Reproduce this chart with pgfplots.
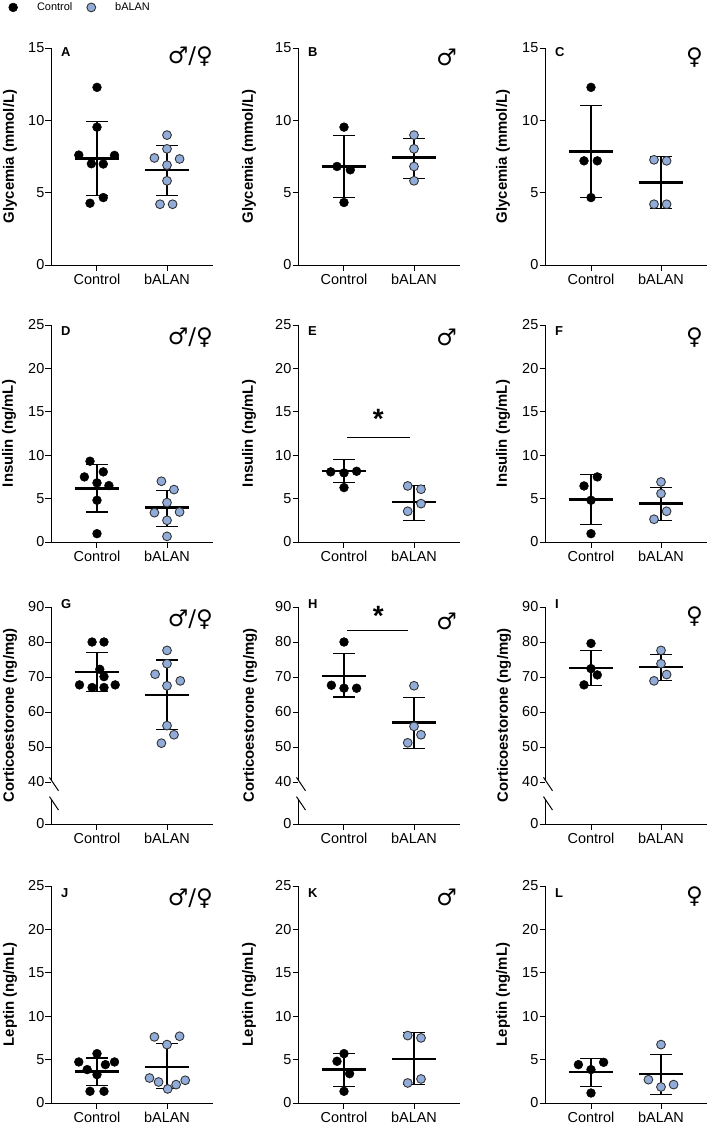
\documentclass[border=0pt]{standalone}
\usepackage{fontspec}
\setmainfont{Liberation Sans}
\newfontfamily\symfont{DejaVu Sans}
\usepackage{pgfplots}
\pgfplotsset{compat=1.18}
\definecolor{balan}{RGB}{146,172,218}

\pgfplotsset{
 panel/.style={
  scale only axis, width=162bp, height=217bp,
  xmin=-0.657, xmax=1.657,
  axis lines=left, axis line style={-, black, line width=1bp},
  tick align=outside, major tick length=5.5bp,
  tick style={black, line width=1bp},
  xtick={0,1}, xticklabels={Control,bALAN},
  ticklabel style={font=\fontsize{14.5}{16}\selectfont},
  /pgf/number format/assume math mode=true,
  yticklabel style={inner xsep=1bp},
  clip=false,
 },
 ylab/.style={every axis y label/.style={at={([xshift=-#1]rel axis cs:0,0.5)}, rotate=90, anchor=center, font=\bfseries\fontsize{15}{17}\selectfont}},
 r1/.style={ymin=0,ymax=15,ytick={0,5,10,15},ylabel={Glycemia (mmol/L)}},
 r2/.style={ymin=0,ymax=25,ytick={0,5,10,15,20,25},ylabel={Insulin (ng/mL)}},
 r3/.style={ymin=0,ymax=62,ytick={0,12,22,32,42,52,62},yticklabels={0,40,50,60,70,80,90},ylabel={Corticoestorone (ng/mg)}, y filter/.expression={y-28}, y axis line style={draw=none}},
 r4/.style={ymin=0,ymax=25,ytick={0,5,10,15,20,25},ylabel={Leptin (ng/mL)}},
 ctrl/.style={only marks, mark=*, mark size=4.4bp, mark options={fill=black, draw=black, line width=0.5bp}},
 bal/.style={only marks, mark=*, mark size=4.4bp, mark options={fill=balan, draw=black!80, line width=0.9bp}},
}

% mean and SD for control (x=0) and bALAN (x=1): {lo}{hi}
\newcommand{\sdC}[2]{%
 \addplot[forget plot, black, line width=1.1bp] coordinates {(0,#1) (0,#2)};
 \addplot[forget plot, black, line width=1.1bp] coordinates {(-0.155,#1) (0.155,#1)};
 \addplot[forget plot, black, line width=1.1bp] coordinates {(-0.155,#2) (0.155,#2)};}
\newcommand{\sdB}[2]{%
 \addplot[forget plot, black, line width=1.1bp] coordinates {(1,#1) (1,#2)};
 \addplot[forget plot, black, line width=1.1bp] coordinates {(0.845,#1) (1.155,#1)};
 \addplot[forget plot, black, line width=1.1bp] coordinates {(0.845,#2) (1.155,#2)};}
\newcommand{\mC}[1]{\addplot[forget plot, black, line width=2.4bp] coordinates {(-0.32,#1) (0.32,#1)};}
\newcommand{\mB}[1]{\addplot[forget plot, black, line width=2.4bp] coordinates {(0.68,#1) (1.32,#1)};}
\newcommand{\plet}[2]{\node[font=\bfseries\fontsize{13}{13}\selectfont, anchor=west, inner sep=0pt] at ([xshift=10bp,yshift=#2]rel axis cs:0,1) {#1};}
\newcommand{\psex}[3]{\node[font=\symfont\fontsize{23}{23}\selectfont, anchor=east, inner sep=0pt] at ([xshift=#2,yshift=#3]rel axis cs:1,1) {#1};}
\newcommand{\brk}{%
 \draw[black, line width=1bp] (axis cs:-0.657,0) -- (axis cs:-0.657,7);
 \draw[black, line width=1bp] (axis cs:-0.657,12.5) -- (axis cs:-0.657,62);
 \draw[black, line width=1bp] ([xshift=-1.5bp,yshift=6.7bp]axis cs:-0.657,11.4) -- ([xshift=7.5bp,yshift=-6.7bp]axis cs:-0.657,11.4);
 \draw[black, line width=1bp] ([xshift=-1.5bp,yshift=6.7bp]axis cs:-0.657,5.9) -- ([xshift=7.5bp,yshift=-6.7bp]axis cs:-0.657,5.9);}
\newcommand{\sigstar}[2]{\node[font=\bfseries\fontsize{28}{28}\selectfont, inner sep=0pt] at ([yshift=-5.5bp]axis cs:#1,#2) {*};}

\begin{document}
\begin{tikzpicture}
\path[use as bounding box] (0,0) rectangle (709bp,-1129bp);

% ---------------- Row 1 ----------------
\begin{axis}[panel, r1, ylab=41bp, at={(51bp,-265bp)}, anchor=south west,
 legend style={at={(rel axis cs:-0.262,1.187)}, anchor=west, draw=none, fill=none, inner sep=0pt,
  nodes={font=\fontsize{11}{12}\selectfont, inner xsep=2bp}, legend columns=2,
  /tikz/every odd column/.append style={column sep=17.5bp},
  /tikz/every even column/.append style={column sep=12.5bp}},
 legend image code/.code={\draw[#1] plot coordinates {(0bp,0bp)};}]
\sdC{4.78}{9.92} \sdB{4.8}{8.26}
\addplot[ctrl] coordinates {(0,12.28)(0,9.53)(-0.26,7.6)(0.25,7.58)(-0.08,7.0)(0.09,6.98)(-0.1,4.27)(0.09,4.66)};
\addplot[bal] coordinates {(1,8.98)(1,8.03)(0.82,7.4)(1.18,7.33)(1,6.9)(1,5.82)(0.9,4.2)(1.08,4.2)};
\legend{Control,bALAN}
\mC{7.35} \mB{6.58}
\plet{A}{-4.5bp} \psex{♂/♀}{0bp}{-9bp}
\end{axis}

\begin{axis}[panel, r1, ylab=49bp, at={(298bp,-265bp)}, anchor=south west]
\sdC{4.66}{8.93} \sdB{6.0}{8.77}
\addplot[ctrl] coordinates {(0,9.53)(-0.1,6.81)(0.09,6.58)(0,4.32)};
\addplot[bal] coordinates {(1,8.98)(1,8.03)(1,6.81)(1,5.82)};
\mC{6.81} \mB{7.43}
\plet{B}{-4.5bp} \psex{♂}{-3bp}{-9bp}
\end{axis}

\begin{axis}[panel, r1, ylab=42bp, at={(545bp,-265bp)}, anchor=south west]
\sdC{4.66}{11.0} \sdB{3.92}{7.5}
\addplot[ctrl] coordinates {(0,12.28)(-0.1,7.2)(0.09,7.2)(0,4.66)};
\addplot[bal] coordinates {(0.9,7.27)(1.08,7.2)(0.9,4.2)(1.08,4.2)};
\mC{7.85} \mB{5.7}
\plet{C}{-4.5bp} \psex{♀}{-4bp}{-9.5bp}
\end{axis}

% ---------------- Row 2 ----------------
\begin{axis}[panel, r2, ylab=42bp, at={(51bp,-542bp)}, anchor=south west]
\sdC{3.46}{8.92} \sdB{1.81}{5.96}
\addplot[ctrl] coordinates {(-0.1,9.31)(-0.18,7.5)(0.09,8.08)(0,6.81)(0.17,6.5)(0,4.81)(0,0.96)};
\addplot[bal] coordinates {(0.92,7.0)(1.1,6.04)(1,4.54)(0.82,3.38)(1.18,3.46)(1,2.5)(1,0.65)};
\mC{6.15} \mB{3.96}
\plet{D}{-6bp} \psex{♂/♀}{0bp}{-12.5bp}
\end{axis}

\begin{axis}[panel, r2, ylab=49bp, at={(298bp,-542bp)}, anchor=south west]
\sdC{6.81}{9.54} \sdB{2.5}{6.54}
\addplot[ctrl] coordinates {(-0.19,8.08)(0.18,8.15)(0,7.96)(0,6.27)};
\addplot[bal] coordinates {(0.91,6.46)(1.1,6.08)(1.1,4.42)(0.91,3.54)};
\mC{8.19} \mB{4.58}
\addplot[forget plot, black, line width=0.9bp] coordinates {(0.05,12.1)(0.94,12.1)};
\sigstar{0.49}{14.86}
\plet{E}{-6bp} \psex{♂}{-3bp}{-12.5bp}
\end{axis}

\begin{axis}[panel, r2, ylab=42bp, at={(545bp,-542bp)}, anchor=south west]
\sdC{2.04}{7.77} \sdB{2.5}{6.23}
\addplot[ctrl] coordinates {(0.09,7.5)(-0.1,6.46)(0,4.81)(0,0.96)};
\addplot[bal] coordinates {(1,6.92)(1,5.58)(1.08,3.54)(0.9,2.62)};
\mC{4.88} \mB{4.42}
\plet{F}{-6bp} \psex{♀}{-4bp}{-12.5bp}
\end{axis}

% ---------------- Row 3 (broken axis) ----------------
\begin{axis}[panel, r3, ylab=41bp, at={(51bp,-824bp)}, anchor=south west]
\sdC{65.85}{76.9} \sdB{54.9}{74.85}
\addplot[ctrl] coordinates {(-0.07,80)(0.1,80)(0.04,72.2)(0.1,70.1)(-0.25,67.75)(-0.07,67)(0.1,67)(0.26,67.75)};
\addplot[bal] coordinates {(1,77.6)(1,73.8)(0.83,70.8)(1.19,68.9)(1,67.5)(1,56.1)(1.1,53.5)(0.92,51.1)};
\mC{71.4} \mB{64.8}
\brk
\plet{G}{3bp} \psex{♂/♀}{0bp}{-13bp}
\end{axis}

\begin{axis}[panel, r3, ylab=48bp, at={(298bp,-824bp)}, anchor=south west]
\sdC{64.3}{76.65} \sdB{49.66}{64.1}
\addplot[ctrl] coordinates {(0,80)(-0.18,67.65)(0,66.8)(0.18,66.8)};
\addplot[bal] coordinates {(1,67.5)(1,55.9)(1.1,53.5)(0.91,51.2)};
\mC{70.3} \mB{57.05}
\addplot[forget plot, black, line width=0.9bp] coordinates {(0.05,83.2)(0.92,83.2)};
\sigstar{0.49}{61.1}
\brk
\plet{H}{3bp} \psex{♂}{-3bp}{-14bp}
\end{axis}

\begin{axis}[panel, r3, ylab=41bp, at={(545bp,-824bp)}, anchor=south west]
\sdC{67.5}{77.6} \sdB{68.9}{76.5}
\addplot[ctrl] coordinates {(0,79.6)(0,72.4)(0.09,70.6)(-0.1,67.75)};
\addplot[bal] coordinates {(1,77.6)(1,73.8)(1.08,70.7)(0.9,68.9)};
\mC{72.6} \mB{72.8}
\brk
\plet{I}{3bp} \psex{♀}{-4bp}{-10bp}
\end{axis}

% ---------------- Row 4 ----------------
\begin{axis}[panel, r4, ylab=41bp, at={(51bp,-1103bp)}, anchor=south west]
\sdC{2.04}{5.19} \sdB{1.65}{6.81}
\addplot[ctrl] coordinates {(0,5.69)(-0.26,4.73)(0.12,4.42)(0.25,4.73)(-0.14,3.85)(0,3.27)(-0.1,1.35)(0.1,1.35)};
\addplot[bal] coordinates {(0.82,7.62)(1.18,7.69)(1,6.73)(0.75,2.88)(0.88,2.42)(1.01,1.62)(1.13,2.12)(1.26,2.62)};
\mC{3.65} \mB{4.15}
\plet{J}{-7bp} \psex{♂/♀}{0bp}{-13bp}
\end{axis}

\begin{axis}[panel, r4, ylab=49bp, at={(298bp,-1103bp)}, anchor=south west]
\sdC{1.92}{5.69} \sdB{2.12}{8.08}
\addplot[ctrl] coordinates {(0,5.69)(-0.1,4.81)(0.08,3.38)(0,1.35)};
\addplot[bal] coordinates {(0.91,7.77)(1.1,7.5)(0.91,2.31)(1.1,2.77)};
\mC{3.85} \mB{5.08}
\plet{K}{-7bp} \psex{♂}{-3bp}{-11bp}
\end{axis}

\begin{axis}[panel, r4, ylab=42bp, at={(545bp,-1103bp)}, anchor=south west]
\sdC{1.92}{5.08} \sdB{0.96}{5.58}
\addplot[ctrl] coordinates {(-0.18,4.42)(0.18,4.69)(0,3.85)(0,1.15)};
\addplot[bal] coordinates {(1,6.73)(0.82,2.69)(1,1.85)(1.18,2.12)};
\mC{3.54} \mB{3.35}
\plet{L}{-7bp} \psex{♀}{-4bp}{-11bp}
\end{axis}
\end{tikzpicture}
\end{document}
